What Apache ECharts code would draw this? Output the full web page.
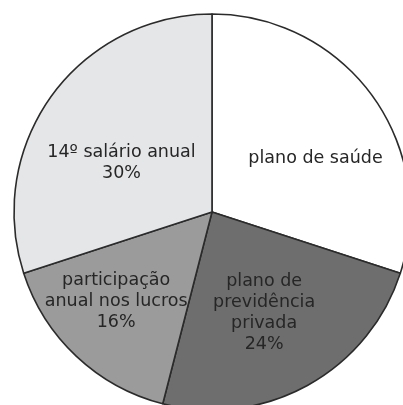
<!DOCTYPE html>
<html>
<head>
<meta charset="utf-8">
<script src="https://cdn.jsdelivr.net/npm/echarts@6/dist/echarts.min.js"></script>
<style>
html,body{margin:0;padding:0;background:#fff;}
#chart{width:403px;height:405px;}
</style>
</head>
<body>
<div id="chart"></div>
<script>
// Data
var categories = ['plano de saúde', 'plano de previdência privada', 'participação anual nos lucros', '14º salário anual'];
var values = [30, 24, 16, 30];
var labelTexts = ['plano de saúde', 'plano de\nprevidência\nprivada', 'participação\nanual nos lucros', '14º salário anual'];
var showPercent = [false, true, true, true];

// Styles
var colors = ['#ffffff', '#6e6e6e', '#9b9b9b', '#e5e6e8'];
var labelShift = [[21, 6], [3, 12], [-26, 15], [-8, 11]];

var chart = echarts.init(document.getElementById('chart'), null, {renderer: 'canvas'});
chart.setOption({
  backgroundColor: '#ffffff',
  animation: false,
  series: [{
    type: 'pie',
    center: [212, 212],
    radius: [0, 198],
    startAngle: 90,
    clockwise: true,
    silent: true,
    data: categories.map(function (c, i) {
      return {name: c, value: values[i], itemStyle: {color: colors[i]}};
    }),
    itemStyle: {borderColor: '#2b2b2b', borderWidth: 1.6},
    label: {
      position: 'inner',
      fontFamily: 'DejaVu Sans, Liberation Sans, sans-serif',
      fontSize: 17.5,
      lineHeight: 21,
      color: '#262626',
      formatter: function (p) {
        var t = labelTexts[p.dataIndex];
        return showPercent[p.dataIndex] ? t + '\n' + p.value + '%' : t;
      }
    },
    labelLine: {show: false},
    labelLayout: function (p) {
      var s = labelShift[p.dataIndex];
      return {dx: s[0], dy: s[1]};
    }
  }]
});
</script>
</body>
</html>
